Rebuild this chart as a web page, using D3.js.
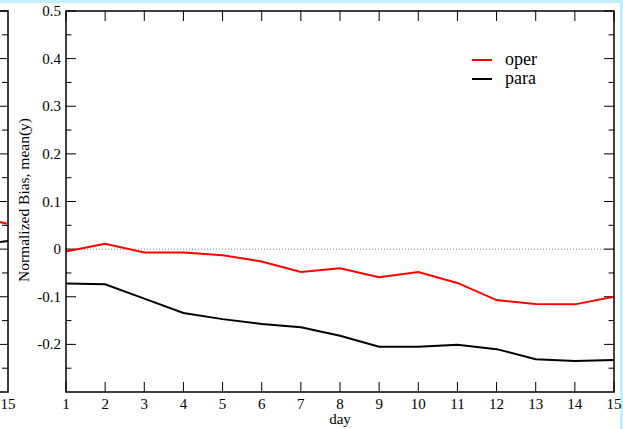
<!DOCTYPE html>
<html>
<head>
<meta charset="utf-8">
<script src="https://cdn.jsdelivr.net/npm/d3@7"></script>
<style>
  body { margin: 0; background: #ffffff; }
  svg { display: block; font-family: "Liberation Serif", "DejaVu Serif", serif; }
</style>
</head>
<body>
<div id="chart"></div>
<script>
// data
const days = [1, 2, 3, 4, 5, 6, 7, 8, 9, 10, 11, 12, 13, 14, 15];
const oper = [-0.005, 0.011, -0.007, -0.007, -0.013, -0.026, -0.048, -0.040, -0.059, -0.048, -0.071, -0.107, -0.115, -0.116, -0.100];
const para = [-0.072, -0.074, -0.104, -0.134, -0.147, -0.157, -0.164, -0.182, -0.205, -0.205, -0.201, -0.210, -0.231, -0.235, -0.233];
const yMajor = [-0.2, -0.1, 0, 0.1, 0.2, 0.3, 0.4, 0.5];
const yMinor = [-0.25, -0.15, -0.05, 0.05, 0.15, 0.25, 0.35, 0.45];
const seriesNames = ['oper', 'para'];
const seriesColors = ['#ff0000', '#000000'];

var width = 623, height = 429;
var pLeft = 66, pRight = 614, pTop = 11, pBottom = 392;

const svg = d3.select('#chart').append('svg')
	.attr('width', width)
	.attr('height', height);

// light blue window edge
svg.append('rect').attr('x', 0).attr('y', 0).attr('width', width).attr('height', 3).attr('fill', '#c6edfa');
svg.append('rect').attr('x', 620).attr('y', 0).attr('width', 3).attr('height', height).attr('fill', '#c6edfa');

var x = d3.scaleLinear().domain([1, 15]).range([pLeft, pRight]);
var y = d3.scaleLinear().domain([-0.3, 0.5]).range([pBottom, pTop]);

// neighbouring panel, only its right edge is visible
var xPrev = d3.scaleLinear().domain([1, 15]).range([-540, 8]);
var prev = svg.append('g');
prev.append('path')
	.attr('d', 'M-10,' + pTop + 'H8V' + pBottom + 'H-10')
	.attr('fill', 'none').attr('stroke', '#000').attr('stroke-width', 1.5);
prev.selectAll(null).data(yMajor).enter().append('line')
	.attr('x1', 8).attr('x2', -2).attr('y1', d => y(d)).attr('y2', d => y(d))
	.attr('stroke', '#000').attr('stroke-width', 1);
prev.selectAll(null).data(yMinor).enter().append('line')
	.attr('x1', 8).attr('x2', 2).attr('y1', d => y(d)).attr('y2', d => y(d))
	.attr('stroke', '#000').attr('stroke-width', 1);
prev.append('text').attr('x', xPrev(15)).attr('y', 409)
	.attr('text-anchor', 'middle').attr('font-size', 15).text('15');
prev.append('line').attr('x1', 0).attr('x2', 8).attr('y1', 222).attr('y2', 224)
	.attr('stroke', '#ff0000').attr('stroke-width', 2);
prev.append('line').attr('x1', 0).attr('x2', 8).attr('y1', 242).attr('y2', 241)
	.attr('stroke', '#000').attr('stroke-width', 2);

// zero line
svg.append('line')
	.attr('x1', pLeft).attr('x2', pRight).attr('y1', y(0)).attr('y2', y(0))
	.attr('stroke', '#888').attr('stroke-width', 1).attr('stroke-dasharray', '1,2');

// ticks on all four sides, pointing inward
var g = svg.append('g');
g.selectAll(null).data(days).enter().append('line')
	.attr('x1', d => x(d)).attr('x2', d => x(d)).attr('y1', pBottom).attr('y2', pBottom - 10)
	.attr('stroke', '#000');
g.selectAll(null).data(days).enter().append('line')
	.attr('x1', d => x(d)).attr('x2', d => x(d)).attr('y1', pTop).attr('y2', pTop + 10)
	.attr('stroke', '#000');
[[pLeft, 10], [pRight, -10]].forEach(function(s) {
	g.selectAll(null).data(yMajor).enter().append('line')
		.attr('x1', s[0]).attr('x2', s[0] + s[1]).attr('y1', d => y(d)).attr('y2', d => y(d))
		.attr('stroke', '#000');
	g.selectAll(null).data(yMinor).enter().append('line')
		.attr('x1', s[0]).attr('x2', s[0] + s[1] * 0.55).attr('y1', d => y(d)).attr('y2', d => y(d))
		.attr('stroke', '#000');
});

// tick labels
g.selectAll(null).data(days).enter().append('text')
	.attr('x', d => x(d)).attr('y', 409)
	.attr('text-anchor', 'middle').attr('font-size', 15)
	.text(d => d);
g.selectAll(null).data(yMajor).enter().append('text')
	.attr('x', pLeft - 5).attr('y', d => y(d) + 5)
	.attr('text-anchor', 'end').attr('font-size', 15)
	.text(d => d === 0 ? '0' : d3.format('.1f')(d).replace('−', '-'));

// axis titles
svg.append('text').attr('x', x(8)).attr('y', 424)
	.attr('text-anchor', 'middle').attr('font-size', 15).text('day');
svg.append('text')
	.attr('transform', 'translate(29,' + 200 + ') rotate(-90)')
	.attr('text-anchor', 'middle').attr('font-size', 15.5)
	.text('Normalized Bias, mean(y)');

// series
var line = d3.line().x((d, i) => x(days[i])).y(d => y(d));
[oper, para].forEach(function(s, k) {
	svg.append('path').datum(s)
		.attr('d', line)
		.attr('fill', 'none')
		.attr('stroke', seriesColors[k])
		.attr('stroke-width', 2);
});

// frame
svg.append('rect')
	.attr('x', pLeft).attr('y', pTop).attr('width', pRight - pLeft).attr('height', pBottom - pTop)
	.attr('fill', 'none').attr('stroke', '#000').attr('stroke-width', 1.5);

// legend
var leg = svg.append('g');
seriesNames.forEach(function(n, k) {
	leg.append('line').attr('x1', 472).attr('x2', 492)
		.attr('y1', 60 + k * 19).attr('y2', 60 + k * 19)
		.attr('stroke', seriesColors[k]).attr('stroke-width', 2);
	leg.append('text').attr('x', 505).attr('y', 65 + k * 19)
		.attr('font-size', 18).text(n);
});
</script>
</body>
</html>
